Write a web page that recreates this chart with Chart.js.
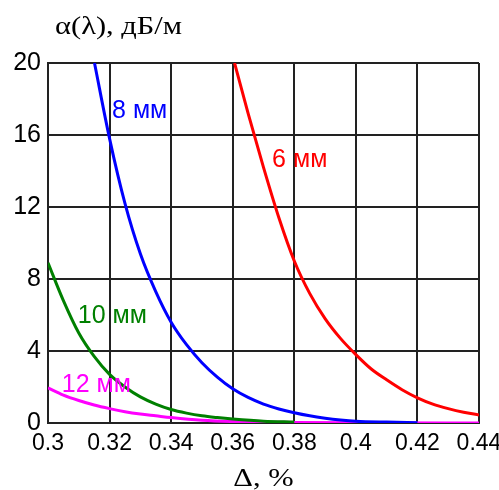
<!DOCTYPE html>
<html>
<head>
<meta charset="utf-8">
<script src="https://cdn.jsdelivr.net/npm/chart.js@4.4.0/dist/chart.umd.min.js"></script>
<style>
html,body{margin:0;padding:0;background:#fff;}
#wrap{width:499px;height:490px;position:relative;}
</style>
</head>
<body>
<div id="wrap"><canvas id="c" width="499" height="490"></canvas></div>
<script>
const xTicks = [0.3, 0.32, 0.34, 0.36, 0.38, 0.4, 0.42, 0.44];
const xTickLabels = ["0.3", "0.32", "0.34", "0.36", "0.38", "0.4", "0.42", "0.44"];
const yTicks = [0, 4, 8, 12, 16, 20];

const x6 = [0.3606, 0.365, 0.37, 0.375, 0.38, 0.385, 0.39, 0.395, 0.40, 0.405, 0.41, 0.415, 0.42, 0.425, 0.43, 0.435, 0.44];
const y6 = [20, 17.2, 14.2, 11.4, 9.0, 7.2, 5.8, 4.7, 3.8, 3.0, 2.4, 1.85, 1.4, 1.05, 0.8, 0.6, 0.45];

const x8 = [0.3151, 0.32, 0.325, 0.33, 0.335, 0.34, 0.345, 0.35, 0.355, 0.36, 0.365, 0.37, 0.375, 0.38, 0.385, 0.39, 0.395, 0.40, 0.41, 0.42];
const y8 = [20, 15.8, 12.2, 9.4, 7.3, 5.6, 4.35, 3.35, 2.55, 1.9, 1.42, 1.05, 0.78, 0.57, 0.4, 0.27, 0.17, 0.1, 0.05, 0.02];

const x10 = [0.30, 0.305, 0.31, 0.315, 0.32, 0.325, 0.33, 0.335, 0.34, 0.345, 0.35, 0.355, 0.36, 0.37, 0.38];
const y10 = [8.9, 6.8, 5.0, 3.7, 2.7, 2.0, 1.45, 1.05, 0.75, 0.55, 0.4, 0.3, 0.22, 0.1, 0.05];

const x12 = [0.30, 0.305, 0.31, 0.315, 0.32, 0.325, 0.33, 0.335, 0.34, 0.35, 0.36, 0.38, 0.40, 0.44];
const y12 = [1.95, 1.55, 1.25, 1.0, 0.8, 0.63, 0.5, 0.4, 0.3, 0.15, 0.08, 0.03, 0.01, 0.0];

const seriesNames = ["6 мм", "8 мм", "10 мм", "12 мм"];
const labelX = [0.3728, 0.3208, 0.3097, 0.3045];
const labelY = [14.22, 16.94, 5.56, 1.72];

const yTitle = "α(λ), дБ/м";
const xTitle = "Δ, %";

const colors = ["#ff0000", "#0000ff", "#008000", "#ff00ff"];
const xs = [x6, x8, x10, x12];
const ys = [y6, y8, y10, y12];

const datasets = xs.map((xa, i) => ({
  label: seriesNames[i],
  data: xa.map((v, j) => ({x: v, y: ys[i][j]})),
  borderColor: colors[i],
  backgroundColor: colors[i],
  borderWidth: 3,
  pointRadius: 0,
  showLine: true,
  fill: false,
  cubicInterpolationMode: 'monotone'
}));

function stretchedText(ctx, text, x, y, sx) {
  ctx.save();
  ctx.translate(x, y);
  ctx.scale(sx, 1);
  ctx.fillText(text, 0, 0);
  ctx.restore();
}

const textPlugin = {
  id: 'texts',
  afterDatasetsDraw(chart) {
    const ctx = chart.ctx;
    const xs_ = chart.scales.x, ys_ = chart.scales.y;
    ctx.save();
    ctx.font = '25px "Liberation Sans", Arial, sans-serif';
    ctx.textBaseline = 'alphabetic';
    ctx.textAlign = 'left';
    seriesNames.forEach((n, i) => {
      ctx.fillStyle = colors[i];
      ctx.fillText(n, xs_.getPixelForValue(labelX[i]), ys_.getPixelForValue(labelY[i]));
    });
    ctx.fillStyle = '#000';
    ctx.font = '25px "Liberation Serif", "Times New Roman", serif';
    ctx.textAlign = 'left';
    stretchedText(ctx, yTitle, 55, 34, 1.22);
    ctx.textAlign = 'center';
    stretchedText(ctx, xTitle, (chart.chartArea.left + chart.chartArea.right) / 2, 486, 1.22);
    ctx.restore();
  }
};

new Chart(document.getElementById('c'), {
  type: 'scatter',
  data: {datasets},
  options: {
    responsive: false,
    animation: false,
    devicePixelRatio: 1,
    layout: {padding: {top: 63, right: 20, left: 0, bottom: 0}},
    plugins: {legend: {display: false}, tooltip: {enabled: false}},
    scales: {
      x: {
        type: 'linear', min: 0.3, max: 0.44,
        afterBuildTicks(s) { s.ticks = xTicks.map(v => ({value: v})); },
        afterFit(s) { s.height = 67; s.paddingLeft = 0; s.paddingRight = 20; },
        ticks: {
          callback: (v) => { const k = xTicks.findIndex(t => Math.abs(t - v) < 1e-9); return k >= 0 ? xTickLabels[k] : ''; },
          color: '#000', padding: 7, maxRotation: 0, autoSkip: false,
          font: {family: '"Liberation Sans", Arial, sans-serif', size: 23}
        },
        grid: {color: '#222', lineWidth: 2, drawTicks: false},
        border: {color: '#222', width: 2}
      },
      y: {
        type: 'linear', min: 0, max: 20,
        afterBuildTicks(s) { s.ticks = yTicks.map(v => ({value: v})); },
        afterFit(s) { s.width = 48; s.paddingTop = 0; s.paddingBottom = 0; },
        ticks: {color: '#000', padding: 7,
          font: {family: '"Liberation Sans", Arial, sans-serif', size: 25}},
        grid: {color: '#222', lineWidth: 2, drawTicks: false},
        border: {color: '#222', width: 2}
      }
    }
  },
  plugins: [textPlugin]
});
</script>
</body>
</html>
